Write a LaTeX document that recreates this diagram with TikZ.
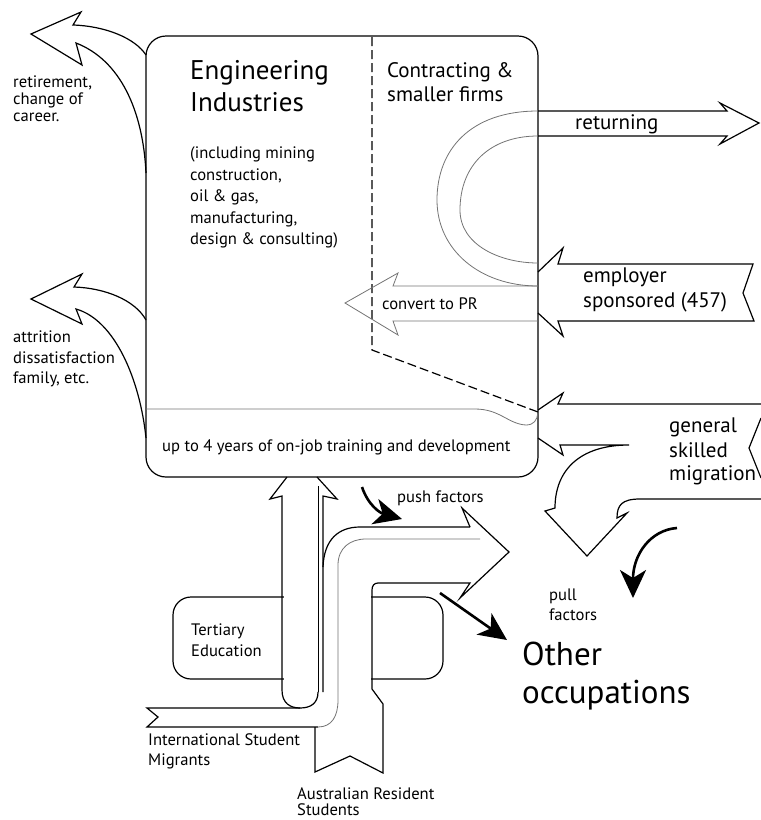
\documentclass[tikz,border=0pt]{standalone}
\usepackage{fontspec}
\setmainfont{PT Sans}
\usetikzlibrary{arrows.meta}
\begin{document}
\begin{tikzpicture}[x=1pt,y=-1pt,
  ln/.style={line width=1.2pt,line join=miter},
  tln/.style={line width=0.8pt},
  gl/.style={line width=0.8pt,draw=black!55},
  bar/.style={line width=2.6pt,-{Stealth[length=28pt,width=26pt,inset=8pt]}},
  lbl/.style={anchor=base west,inner sep=0pt},
  txs/.style={lbl,font=\fontsize{16.6}{17}\selectfont},
  txm/.style={lbl,font=\fontsize{21}{21}\selectfont},
  txl/.style={lbl,font=\fontsize{27}{27}\selectfont},
  txx/.style={lbl,font=\fontsize{33}{33}\selectfont}]
\useasboundingbox (0,0) rectangle (761,820);

% Tertiary education box (behind arrows)
\draw[ln,rounded corners=18pt] (173,597) rectangle (443,679);
\fill[white] (283.5,590) rectangle (371.4,692);

% main box
\draw[ln,rounded corners=20pt] (146,36) rectangle (538,477);
\draw[ln,dash pattern=on 9pt off 4pt] (372,37) -- (372,350) -- (538,412);
\draw[gl] (146,409) -- (475,409) .. controls (500,409) and (508,424) .. (526,425) .. controls (534,425) and (537,420) .. (538,413);

% retirement arrow
\draw[ln] (146,55) .. controls (135,38) and (105,26) .. (73,25) -- (81,12) -- (31,34) -- (82,65) -- (76,43) .. controls (120,60) and (143,110) .. (146,173);
% attrition arrow
\draw[ln] (146,320) .. controls (135,300) and (105,288) .. (74,287) -- (82,274) -- (31,299) -- (82,324) -- (76,309) .. controls (115,320) and (140,380) .. (146,438);

% returning (U-turn + arrow)
\draw[gl] (538,111) .. controls (470,111) and (437,150) .. (437,200) .. controls (437,250) and (480,286) .. (538,286);
\draw[gl] (538,136) .. controls (490,136) and (460,165) .. (460,210) .. controls (460,245) and (500,263) .. (538,263);
\draw[ln] (538,111) -- (727,111) -- (720,103) -- (759,123) -- (720,144) -- (727,136) -- (538,136);

% convert to PR
\draw[gl] (538,286) -- (393,286) -- (398,273) -- (345,303) -- (398,335) -- (393,321) -- (538,321);

% employer sponsored
\draw[ln] (538,272) -- (563,248) -- (558,264) -- (753,264) -- (743,293) -- (754,321) -- (558,321) -- (563,336) -- (538,313);

% general skilled migration
\draw[ln] (538,410) -- (563,393) -- (558,404) -- (761,404);
\draw[ln] (761,418) -- (749,448) -- (761,478);
\draw[ln] (538,438) -- (563,455) -- (560,445) -- (629,445) .. controls (580,445) and (555,470) .. (555,508) -- (545,511) -- (587,556) -- (627,513) -- (617,518) .. controls (617,505) and (622,499) .. (640,499) -- (761,499);

% bottom arrows
\draw[ln] (287,477) -- (270,499) -- (282,496) -- (282,690) .. controls (282,703) and (290,708) .. (300,708) .. controls (311,708) and (318,703) .. (318,692);
\draw[tln] (318,692) -- (318,486);
\draw[ln] (317,477) -- (337,499) -- (323,496) -- (323,692);
\draw[ln] (470,527) -- (360,527) .. controls (338,527) and (324,540) .. (323,567);
\draw[ln] (470,527) -- (462,508) -- (509,552) -- (460,598) -- (470,583) -- (378,583) .. controls (374,583) and (372,586) .. (372,590) -- (372,689) -- (383,704) -- (383,773) -- (350,756) -- (315,772) -- (315,727);
\draw[ln] (300,708) -- (147,708) -- (158,717) -- (147,727) -- (318,727);
\draw[gl] (318,727) .. controls (332,727) and (338,716) .. (338,700) -- (338,565) .. controls (338,548) and (350,539) .. (366,539) -- (480,539);

% black flow arrows
\draw[bar] (362,487) .. controls (368,505) and (380,513) .. (402,519);
\draw[bar] (440,593) -- (507,640);
\draw[bar] (677,528) .. controls (650,530) and (633,555) .. (633,598);

% texts
\node[txl] (eng1) at (190,79) {Engineering};
\node[txl] (eng2) at (190,111) {Industries};
\node[txs] (inc1) at (190,158) {(including mining};
\node[txs] (inc2) at (190,180) {construction,};
\node[txs] (inc3) at (190,201) {oil \& gas,};
\node[txs] (inc4) at (190,223) {manufacturing,};
\node[txs] (inc5) at (190,244) {design \& consulting)};
\node[txm] (con1) at (387,77) {Contracting \&};
\node[txm] (con2) at (387,101) {smaller firms};
\node[txm] (ret) at (575,129) {returning};
\node[txm] (emp1) at (583,282) {employer};
\node[txm] (emp2) at (583,307) {sponsored (457)};
\node[txs] (cpr) at (382,309) {convert to PR};
\node[txm] (gsm1) at (669,432) {general};
\node[txm] (gsm2) at (669,457) {skilled};
\node[txm] (gsm3) at (669,480) {migration};
\node[txs] (trn) at (162,451) {up to 4 years of on-job training and development};
\node[txs] (rt1) at (13,87) {retirement,};
\node[txs] (rt2) at (13,104) {change of};
\node[txs] (rt3) at (13,121) {career.};
\node[txs] (at1) at (13,342) {attrition};
\node[txs] (at2) at (13,363) {dissatisfaction};
\node[txs] (at3) at (13,383) {family, etc.};
\node[txs] (psh) at (397,502) {push factors};
\node[txs] (pl1) at (549,600) {pull};
\node[txs] (pl2) at (549,620) {factors};
\node[txx] (oth1) at (522,665) {Other};
\node[txx] (oth2) at (522,703) {occupations};
\node[txs] (ter1) at (191,635) {Tertiary};
\node[txs] (ter2) at (191,656) {Education};
\node[txs] (int1) at (148,745) {International Student};
\node[txs] (int2) at (148,765) {Migrants};
\node[txs] (aus1) at (297,799) {Australian Resident};
\node[txs] (aus2) at (297,815) {Students};
\end{tikzpicture}
\end{document}
